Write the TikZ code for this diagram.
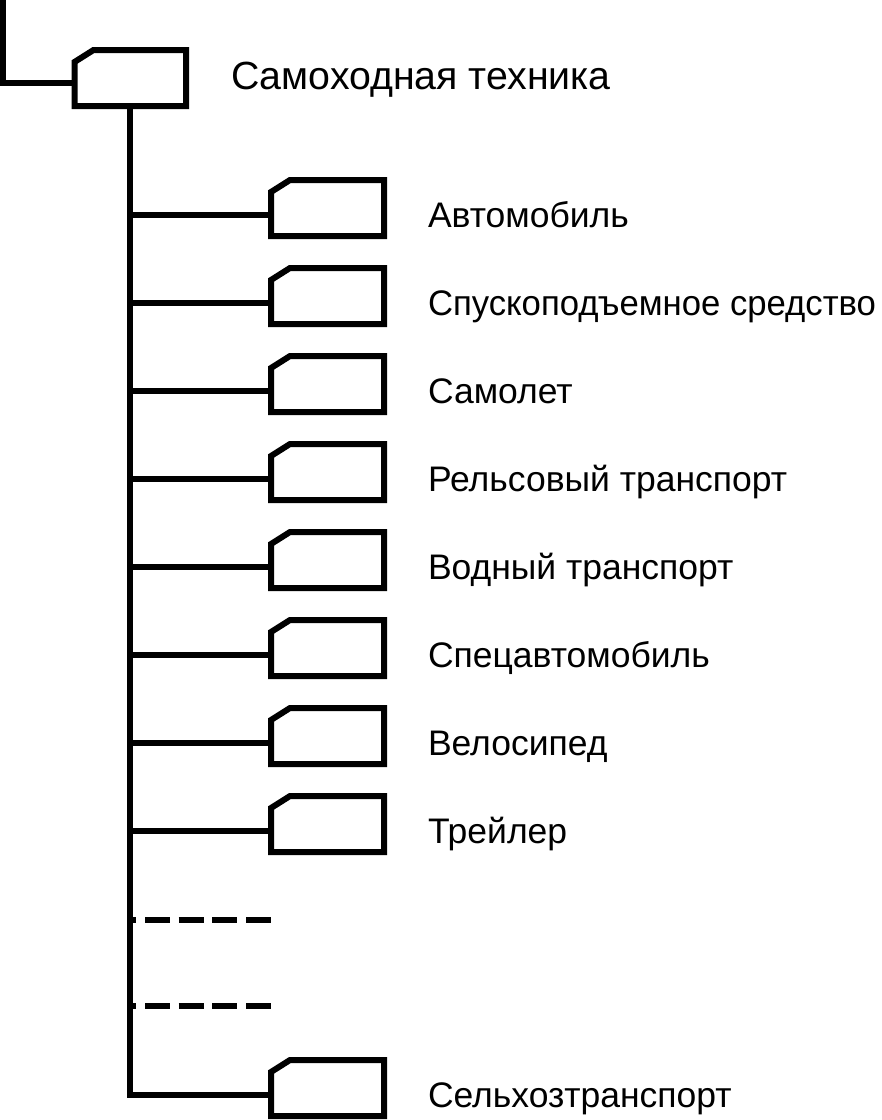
\documentclass[tikz,border=0pt]{standalone}
\usepackage{fontspec}
\usepackage{graphicx}
\setmainfont{Liberation Sans}
\begin{document}
\begin{tikzpicture}[x=1pt,y=-1pt,
  line width=6pt,
  boxarea/.style={rectangle, minimum width=113pt, minimum height=56pt, inner sep=0pt, outer sep=0pt},
  lbl/.style={anchor=base west, inner sep=0pt, font=\fontsize{35.5}{38}\selectfont},
  toplbl/.style={lbl, font=\fontsize{39.3}{42}\selectfont},
  dashline/.style={dash pattern=on 25pt off 8.7pt, dash phase=18.7pt}]
\useasboundingbox (0,0) rectangle (882,1120);
\newcommand{\chambox}[1]{%
  \draw[line join=miter] ([yshift=-12pt]#1.north west) -- ([xshift=19pt]#1.north west)
    -- (#1.north east) -- (#1.south east) -- (#1.south west) -- cycle;}
% root
\node[boxarea, minimum width=111.5pt] (root) at (130.25,78) {};
\chambox{root}
\node[toplbl] (troot) at (228,89) {Самоходная техника};
\coordinate (lstart) at (2.5,-4);
\coordinate (lcorner) at (2.5,83);
\draw[line join=miter] (lstart) -- (lcorner) -- (lcorner -| root.west);
% trunk
\coordinate (tstart) at (130,106);
\coordinate (tend) at (130,1094.5);
% children
\foreach \i/\t in {0/Автомобиль,1/\resizebox{448pt}{\height}{Спускоподъемное средство},2/Самолет,3/Рельсовый транспорт,4/Водный транспорт,5/Спецавтомобиль,6/Велосипед,7/Трейлер,10/Сельхозтранспорт}{
  \pgfmathsetmacro{\top}{180+88*\i}
  \node[boxarea] (b\i) at (327.5,\top+28) {};
  \chambox{b\i}
  \coordinate (j\i) at (130,\top+34.5);
  \node[lbl] (t\i) at (425,\top+34.5+13) {\t};
}
\draw[line join=miter] (tstart) -- (tend) -- (tend -| b10.west);
\foreach \i in {0,...,7}{
  \draw (j\i) -- (j\i -| b\i.west);
}
% dashed
\coordinate (d1) at (130,919.5);
\coordinate (d1e) at (271,919.5);
\coordinate (d2) at (130,1006);
\coordinate (d2e) at (271,1006);
\draw[dashline] (d1) -- (d1e);
\draw[dashline] (d2) -- (d2e);
\end{tikzpicture}
\end{document}
